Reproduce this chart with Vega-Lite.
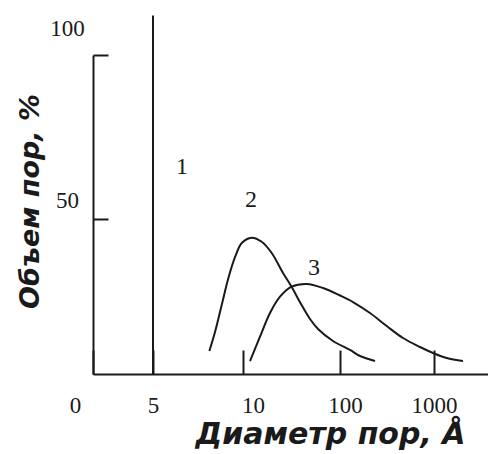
{
  "$schema": "https://vega.github.io/schema/vega-lite/v6.json",
  "autosize": "none",
  "width": 395,
  "height": 319,
  "padding": {"left": 93, "top": 55, "right": 0, "bottom": 80},
  "background": "white",
  "config": {"view": {"stroke": null}},
  "datasets": {
    "line1": [{"series": "1", "d": 5, "v": 3, "v2": 112}],
    "curves": [
      {"series": "2", "d": 7.77, "v": 10.0},
      {"series": "2", "d": 8.11, "v": 15.77},
      {"series": "2", "d": 8.53, "v": 23.98},
      {"series": "2", "d": 8.97, "v": 32.19},
      {"series": "2", "d": 9.43, "v": 38.58},
      {"series": "2", "d": 9.91, "v": 42.83},
      {"series": "2", "d": 12.42, "v": 44.45},
      {"series": "2", "d": 15.87, "v": 43.22},
      {"series": "2", "d": 20.2, "v": 39.79},
      {"series": "2", "d": 26.45, "v": 33.71},
      {"series": "2", "d": 32.49, "v": 29.45},
      {"series": "2", "d": 40.42, "v": 24.28},
      {"series": "2", "d": 49.88, "v": 19.72},
      {"series": "2", "d": 60.1, "v": 16.68},
      {"series": "2", "d": 85.08, "v": 13.03},
      {"series": "2", "d": 127.9, "v": 10.3},
      {"series": "2", "d": 163.6, "v": 8.47},
      {"series": "2", "d": 236.3, "v": 6.95},
      {"series": "3", "d": 11.91, "v": 6.95},
      {"series": "3", "d": 15.23, "v": 14.34},
      {"series": "3", "d": 19.39, "v": 21.54},
      {"series": "3", "d": 24.63, "v": 26.5},
      {"series": "3", "d": 32.49, "v": 29.55},
      {"series": "3", "d": 46.17, "v": 30.37},
      {"series": "3", "d": 67.49, "v": 29.14},
      {"series": "3", "d": 100, "v": 26.87},
      {"series": "3", "d": 137.7, "v": 24.89},
      {"series": "3", "d": 209, "v": 21.54},
      {"series": "3", "d": 314.9, "v": 17.59},
      {"series": "3", "d": 468.9, "v": 13.94},
      {"series": "3", "d": 710.5, "v": 11.21},
      {"series": "3", "d": 976.7, "v": 9.38},
      {"series": "3", "d": 1356, "v": 7.86},
      {"series": "3", "d": 2004, "v": 6.95}
    ],
    "labels": [
      {"label": "1", "d": 6.3, "v": 65.9},
      {"label": "2", "d": 12.2, "v": 55.9},
      {"label": "3", "d": 54.8, "v": 35.2}
    ]
  },
  "encoding": {
    "x": {
      "field": "d",
      "type": "quantitative",
      "scale": {
        "type": "symlog",
        "constant": 1,
        "domain": [0, 5, 10, 100, 1000, 3650],
        "range": [0, 60, 150, 247, 341, 395]
      },
      "axis": {
        "values": [0, 5, 10, 100, 1000],
        "format": "d",
        "grid": false,
        "title": "Диаметр пор, Å",
        "domainColor": "#1a1a1a",
        "domainWidth": 2,
        "tickColor": "#1a1a1a",
        "tickWidth": 2,
        "tickSize": -24,
        "labelFont": "Liberation Serif",
        "labelFontSize": 23,
        "labelColor": "#1a1a1a",
        "labelPadding": 55,
        "labelAlign": "center",
        "labelBaseline": "middle",
        "labelFlush": false,
        "labelOverlap": false,
        "labelBound": false,
        "labelOffset": {
          "condition": [
            {"test": "datum.value === 0", "value": -18},
            {"test": "datum.value === 10", "value": 10},
            {"test": "datum.value === 100", "value": 5}
          ],
          "value": 0
        },
        "titleFont": "DejaVu Sans",
        "titleFontSize": 30,
        "titleFontStyle": "italic",
        "titleFontWeight": "bold",
        "titleColor": "#1a1a1a",
        "titleX": 237,
        "titleY": 69,
        "titleAlign": "center",
        "titleBaseline": "alphabetic"
      }
    },
    "y": {
      "field": "v",
      "type": "quantitative",
      "scale": {"domain": [3, 100], "zero": false, "nice": false},
      "axis": {
        "values": [50, 100],
        "grid": false,
        "title": "Объем пор, %",
        "domainColor": "#1a1a1a",
        "domainWidth": 2,
        "tickColor": "#1a1a1a",
        "tickWidth": 2,
        "tickSize": -15,
        "labelFont": "Liberation Serif",
        "labelFontSize": 23,
        "labelColor": "#1a1a1a",
        "labelPadding": 41,
        "labelAlign": "center",
        "labelBaseline": "middle",
        "labelFlush": false,
        "labelOverlap": false,
        "labelBound": false,
        "labelOffset": {
          "condition": {"test": "datum.value === 100", "value": -27},
          "value": -19
        },
        "titleFont": "DejaVu Sans",
        "titleFontSize": 27,
        "titleFontStyle": "italic",
        "titleFontWeight": "bold",
        "titleColor": "#1a1a1a",
        "titleAngle": 270,
        "titleX": -55,
        "titleY": 146,
        "titleAlign": "center",
        "titleBaseline": "alphabetic"
      }
    }
  },
  "layer": [
    {
      "data": {"name": "line1"},
      "mark": {"type": "rule", "color": "#1a1a1a", "strokeWidth": 2},
      "encoding": {"y2": {"field": "v2"}}
    },
    {
      "data": {"name": "curves"},
      "mark": {"type": "line", "color": "#1a1a1a", "strokeWidth": 2, "interpolate": "catmull-rom"},
      "encoding": {"detail": {"field": "series", "type": "nominal"}}
    },
    {
      "data": {"name": "labels"},
      "mark": {"type": "text", "font": "Liberation Serif", "fontSize": 24, "color": "#1a1a1a", "align": "center", "baseline": "middle"},
      "encoding": {"text": {"field": "label", "type": "nominal"}}
    }
  ]
}
